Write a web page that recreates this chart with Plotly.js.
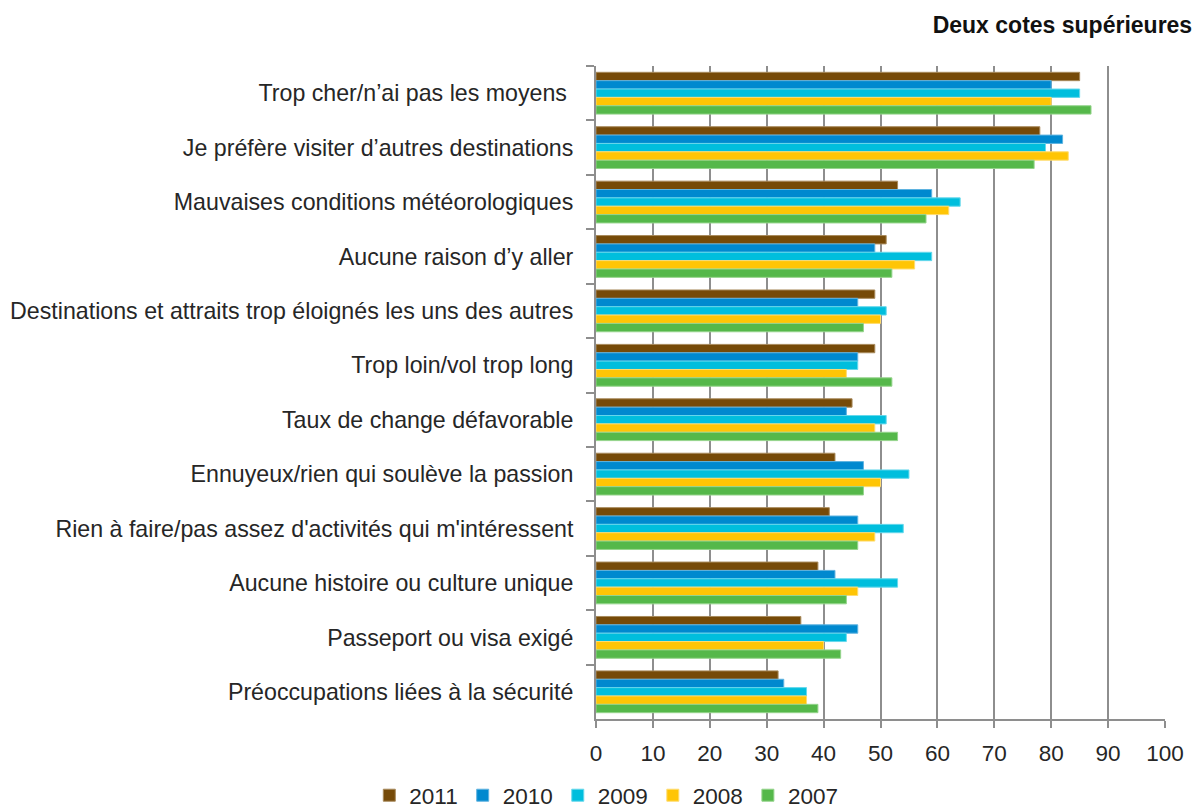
<!DOCTYPE html>
<html>
<head>
<meta charset="utf-8">
<script src="https://cdn.plot.ly/plotly-3.0.1.min.js"></script>
<style>html,body{margin:0;padding:0;background:#fff;}#chart{width:1203px;height:811px;}</style>
</head>
<body>
<div id="chart"></div>
<script>
const categories = [
  "Trop cher/n’ai pas les moyens ",
  "Je préfère visiter d’autres destinations",
  "Mauvaises conditions météorologiques",
  "Aucune raison d’y aller",
  "Destinations et attraits trop éloignés les uns des autres",
  "Trop loin/vol trop long",
  "Taux de change défavorable",
  "Ennuyeux/rien qui soulève la passion",
  "Rien à faire/pas assez d'activités qui m'intéressent",
  "Aucune histoire ou culture unique",
  "Passeport ou visa exigé",
  "Préoccupations liées à la sécurité"
];
const seriesNames = ["2011", "2010", "2009", "2008", "2007"];
const v2011 = [85, 78, 53, 51, 49, 49, 45, 42, 41, 39, 36, 32];
const v2010 = [80, 82, 59, 49, 46, 46, 44, 47, 46, 42, 46, 33];
const v2009 = [85, 79, 64, 59, 51, 46, 51, 55, 54, 53, 44, 37];
const v2008 = [80, 83, 62, 56, 50, 44, 49, 50, 49, 46, 40, 37];
const v2007 = [87, 77, 58, 52, 47, 52, 53, 47, 46, 44, 43, 39];
const xTicks = [0, 10, 20, 30, 40, 50, 60, 70, 80, 90, 100];
const chartTitle = "Deux cotes supérieures";

const values = [v2011, v2010, v2009, v2008, v2007];
const colors = ["#764A08", "#0089CF", "#00BEDD", "#FFC505", "#55B84A"];
const edges = ["#A88A5C", "#5FB3E0", "#66D8EC", "#FFDC70", "#95D48C"];

const traces = seriesNames.map((name, i) => ({
  type: "bar",
  orientation: "h",
  name: name,
  x: values[i],
  y: categories,
  marker: {color: colors[i], line: {color: edges[i], width: 1}},
  hoverinfo: "x+y+name"
}));

const font = "'Liberation Sans', Arial, sans-serif";
const txt = "#262626";
const layout = {
  width: 1203,
  height: 811,
  margin: {l: 596, r: 38, t: 66, b: 92},
  paper_bgcolor: "#fff",
  plot_bgcolor: "#fff",
  barmode: "group",
  bargap: 0.232,
  bargroupgap: 0,
  font: {family: font, size: 23, color: txt},
  title: {
    text: "<b>" + chartTitle + "</b>",
    font: {family: font, size: 23, color: "#111"},
    x: 0.991, xanchor: "right", xref: "container",
    y: 0.969, yanchor: "middle"
  },
  xaxis: {
    range: [0, 100],
    tickvals: xTicks,
    ticktext: xTicks.map(String),
    showgrid: true,
    gridcolor: "#8E8E8E",
    gridwidth: 2,
    showline: true,
    linecolor: "#8E8E8E",
    linewidth: 2,
    ticks: "outside",
    ticklen: 7,
    tickcolor: "#8E8E8E",
    tickwidth: 2,
    ticklabelstandoff: 6,
    zeroline: false,
    tickfont: {family: font, size: 22.5, color: txt},
    fixedrange: true
  },
  yaxis: {
    type: "category",
    autorange: "reversed",
    showline: true,
    linecolor: "#8E8E8E",
    linewidth: 2,
    ticks: "outside",
    tickson: "boundaries",
    ticklen: 8,
    tickcolor: "#8E8E8E",
    tickwidth: 2,
    ticklabelstandoff: 16,
    showgrid: false,
    tickfont: {family: font, size: 23.2, color: txt},
    fixedrange: true
  },
  legend: {
    orientation: "h",
    x: 0.504, xanchor: "center", xref: "container",
    y: 0.019, yanchor: "middle", yref: "container",
    traceorder: "normal",
    font: {family: font, size: 22.5, color: txt},
    itemwidth: 30,
    tracegroupgap: 0
  },
  showlegend: true
};

Plotly.newPlot("chart", traces, layout, {displayModeBar: false, responsive: false});
</script>
</body>
</html>
